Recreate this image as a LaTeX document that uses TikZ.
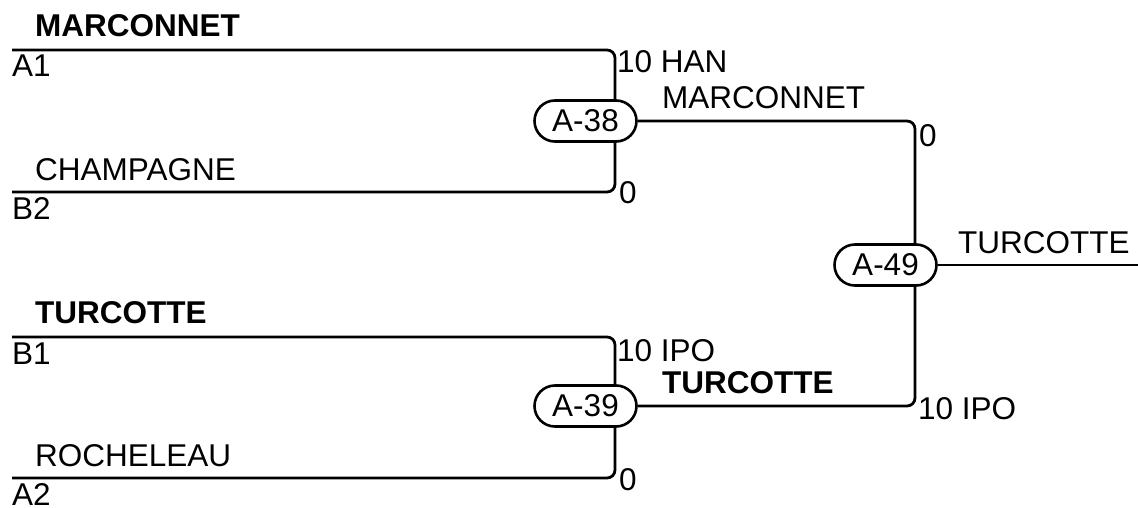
\documentclass[tikz,border=0pt]{standalone}
\usepackage{fontspec}
\setmainfont{Liberation Sans}
\usetikzlibrary{shapes.misc}
\begin{document}
\begin{tikzpicture}[x=1pt,y=-1pt,
  wire/.style={line width=2.8pt,rounded corners=8pt},
  game/.style={rounded rectangle,draw,line width=2.6pt,minimum width=102pt,minimum height=41pt,inner sep=0pt,font=\fontsize{31.5}{33}\selectfont},
  lbl/.style={anchor=base west,inner sep=0pt,font=\fontsize{31.5}{33}\selectfont},
  blbl/.style={lbl,font=\fontsize{31.5}{33}\selectfont\bfseries}]
\useasboundingbox (0,0) rectangle (1138,508);
% match nodes
\node[game] (m38) at (585.5,121) {A-38};
\node[game] (m39) at (585.5,406) {A-39};
\node[game] (m49) at (885.5,265) {A-49};
% coordinates
\coordinate (a1) at (12,50);
\coordinate (c1) at (615,50);
\coordinate (b2) at (12,192);
\coordinate (c2) at (615,192);
\coordinate (b1) at (12,337);
\coordinate (c3) at (615,337);
\coordinate (a2) at (12,478);
\coordinate (c4) at (615,478);
\coordinate (c5) at (915,121);
\coordinate (c6) at (915,406);
\coordinate (out) at (1138,265);
% wires
\draw[wire] (a1) -- (c1) -- (c1 |- m38.north);
\draw[wire] (b2) -- (c2) -- (c2 |- m38.south);
\draw[wire] (b1) -- (c3) -- (c3 |- m39.north);
\draw[wire] (a2) -- (c4) -- (c4 |- m39.south);
\draw[wire] (m38.east) -- (c5) -- (c5 |- m49.north);
\draw[wire] (m39.east) -- (c6) -- (c6 |- m49.south);
\draw[wire] (m49.east) -- (out);
% labels
\node[blbl] (t1) at (35,37) {MARCONNET};
\node[lbl] (t2) at (12,77) {A1};
\node[lbl] (t3) at (617,73) {10 HAN};
\node[lbl] (t4) at (662,109) {MARCONNET};
\node[lbl] (t5) at (919,147) {0};
\node[lbl] (t6) at (35,181) {CHAMPAGNE};
\node[lbl] (t7) at (12,219) {B2};
\node[lbl] (t8) at (619,203) {0};
\node[lbl] (t9) at (958,253) {TURCOTTE};
\node[blbl] (t10) at (35,323) {TURCOTTE};
\node[lbl] (t11) at (12,364) {B1};
\node[lbl] (t12) at (617,361) {10 IPO};
\node[blbl] (t13) at (662,393) {TURCOTTE};
\node[lbl] (t14) at (918,419) {10 IPO};
\node[lbl] (t15) at (35,466) {ROCHELEAU};
\node[lbl] (t16) at (12,505) {A2};
\node[lbl] (t17) at (619,490) {0};
\end{tikzpicture}
\end{document}
